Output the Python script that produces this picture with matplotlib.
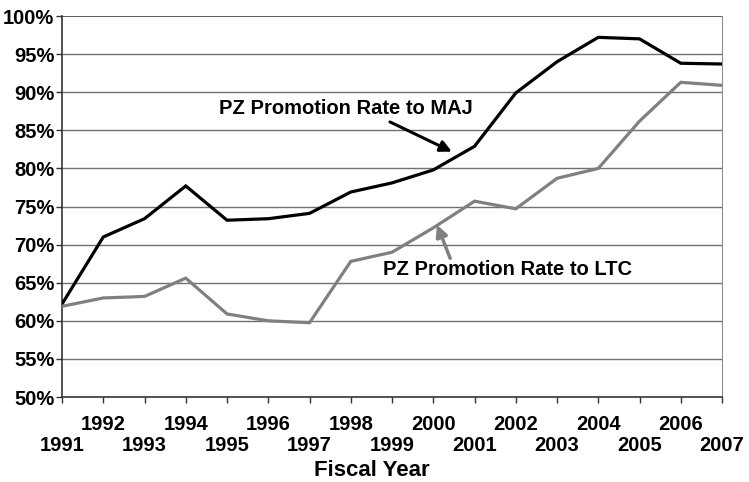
import numpy as np
import matplotlib
matplotlib.use("Agg")
import matplotlib.pyplot as plt

# fiscal years and promotion rates (%)
years = list(range(1991, 2008))
maj = [62.2, 71.0, 73.4, 77.7, 73.2, 73.4, 74.1, 76.9, 78.1, 79.8, 82.9,
       89.9, 94.0, 97.2, 97.0, 93.8, 93.7]
ltc = [61.9, 63.0, 63.2, 65.6, 60.9, 60.0, 59.75, 67.8, 69.0, 72.2, 75.7,
       74.7, 78.7, 80.0, 86.2, 91.3, 90.9]
yticks = list(range(50, 101, 5))

plt.rcParams['font.family'] = ['Liberation Sans', 'DejaVu Sans']
plt.rcParams['font.weight'] = 'bold'

fig = plt.figure(figsize=(7.49, 4.82), dpi=100)
ax = fig.add_axes([0.0828, 0.1763, 0.8812, 0.7905])

ax.plot(years, maj, color='black', lw=2.3, solid_joinstyle='miter', zorder=3)
ax.plot(years, ltc, color='#808080', lw=2.3, solid_joinstyle='miter', zorder=3)

ax.set_xlim(1991, 2007)
ax.set_ylim(50, 100)
ax.set_yticks(yticks)
ax.set_yticklabels([f"{v}%" for v in yticks])
for v in yticks[1:-1]:
    ax.axhline(v, color='#707070', lw=1.0, zorder=1)
ax.axhline(100, color='#404040', lw=1.2, zorder=1)

# even years on the first row, odd years on the second
labels = [str(y) if y % 2 == 0 else "\n" + str(y) for y in years]
ax.set_xticks(years)
ax.set_xticklabels(labels, linespacing=1.15)

ax.tick_params(axis='both', labelsize=14.5, length=4, width=1, color='#333333')
ax.tick_params(axis='x', pad=9)
ax.tick_params(axis='y', pad=1.5)
for lab in ax.get_xticklabels() + ax.get_yticklabels():
    lab.set_fontweight('bold')

for s in ['left', 'bottom']:
    ax.spines[s].set_color('#333333')
    ax.spines[s].set_linewidth(1.2)
ax.spines['top'].set_visible(False)
ax.spines['right'].set_color('#909090')

fig.text(372 / 749, 1 - 471 / 482, "Fiscal Year", ha='center', va='center',
         fontsize=16, fontweight='bold')

ax.text(1997.88, 87.9, "PZ Promotion Rate to MAJ", ha='center', va='center',
        fontsize=14.5, fontweight='bold')
ax.annotate("", xy=(2000.45, 82.2), xytext=(1998.95, 86.1),
            arrowprops=dict(arrowstyle='-|>', color='black', lw=2.2,
                            mutation_scale=17, shrinkA=0, shrinkB=0))

ax.text(2001.79, 66.8, "PZ Promotion Rate to LTC", ha='center', va='center',
        fontsize=14.5, fontweight='bold')
ax.annotate("", xy=(2000.09, 72.6), xytext=(2000.41, 68.2),
            arrowprops=dict(arrowstyle='-|>', color='#808080', lw=2.5,
                            mutation_scale=17, shrinkA=0, shrinkB=0))

fig.savefig("out.png", dpi=100)
